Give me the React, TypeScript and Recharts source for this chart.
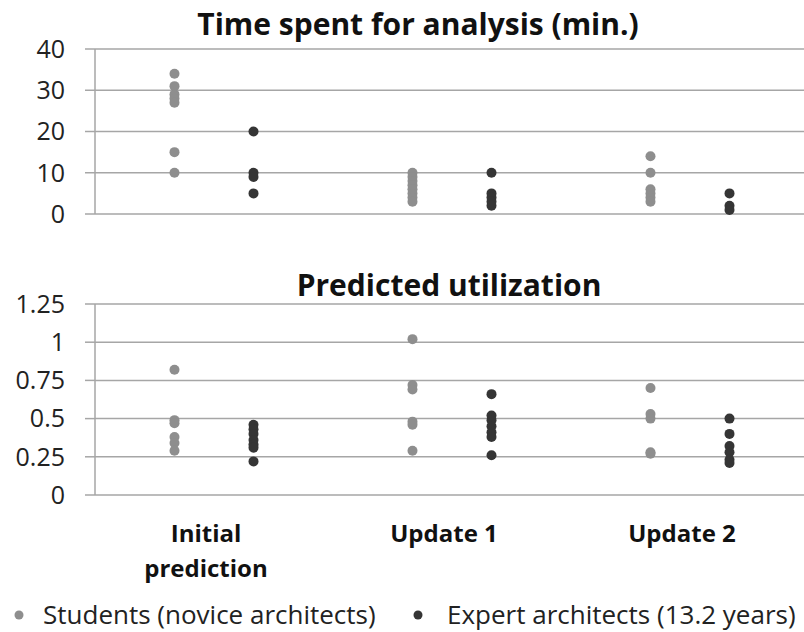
import React from 'react';
import { ScatterChart, Scatter, XAxis, YAxis, CartesianGrid } from 'recharts';

const FONT = "'Open Sans', Lato, sans-serif";
const GRID = '#a6a6a6';
const STUDENT = '#8e8e8e';
const EXPERT = '#353535';

// categories (one per update round), label lines for the x axis
const categories = ['Initial prediction', 'Update 1', 'Update 2'];
const categoryLines = [['Initial', 'prediction'], ['Update 1'], ['Update 2']];

// time spent for analysis (min.), per category
const timeStudents = [
  [34, 31, 29, 28, 27, 15, 10],
  [10, 9, 8, 7, 6, 5, 4, 3],
  [14, 10, 6, 5, 4, 3],
];
const timeExperts = [
  [20, 10, 9, 5],
  [10, 5, 4, 3, 2],
  [5, 2, 1],
];
const timeTicks = [0, 10, 20, 30, 40];

// predicted utilization, per category
const utilStudents = [
  [0.82, 0.49, 0.47, 0.38, 0.34, 0.29],
  [1.02, 0.72, 0.69, 0.48, 0.46, 0.29],
  [0.7, 0.53, 0.5, 0.28, 0.27],
];
const utilExperts = [
  [0.46, 0.43, 0.4, 0.36, 0.33, 0.31, 0.22],
  [0.66, 0.52, 0.49, 0.45, 0.41, 0.38, 0.26],
  [0.5, 0.4, 0.32, 0.28, 0.23, 0.21],
];
const utilTicks = [0, 0.25, 0.5, 0.75, 1, 1.25];

const legendLabels = ['Students (novice architects)', 'Expert architects (13.2 years)'];

// group offset within a category (in category units)
const OFFSET = 0.166;

const toPoints = (groups: number[][], shift: number) =>
  groups.flatMap((vals, i) => vals.map(v => ({ x: i + 0.5 + shift, y: v, cat: categories[i] })));

const timeStudentPts = toPoints(timeStudents, -OFFSET);
const timeExpertPts = toPoints(timeExperts, OFFSET);
const utilStudentPts = toPoints(utilStudents, -OFFSET);
const utilExpertPts = toPoints(utilExperts, OFFSET);

const dot = (color: string) => (props: any) => (
  <circle cx={props.cx} cy={props.cy} r={5} fill={color} />
);

const CategoryTick = (props: any) => {
  const { x, y, payload } = props;
  const lines = categoryLines[Math.floor(payload.value)] || [];
  return (
    <text x={x - 8} y={y} textAnchor="middle" fill="#111" fontSize={24} fontWeight="bold" fontFamily={FONT}>
      {lines.map((l, i) => (
        <tspan key={i} x={x - 8} dy={i === 0 ? 47 : 35}>{l}</tspan>
      ))}
    </text>
  );
};

const yAxisProps = {
  width: 95,
  tickSize: 10,
  tickMargin: 20,
  axisLine: { stroke: GRID, strokeWidth: 1.5 },
  tickLine: { stroke: GRID, strokeWidth: 1.5 },
  tick: { fill: '#222', fontSize: 25, fontFamily: FONT },
  interval: 0 as const,
};

export default function App() {
  return (
    <div style={{ position: 'absolute', left: 0, top: 0, width: 804, height: 632, overflow: 'hidden', background: '#fff', fontFamily: FONT }}>
      <div style={{ position: 'absolute', left: 0, top: 0 }}>
        <ScatterChart width={812} height={230} margin={{ top: 49, right: 3, bottom: 16, left: 0 }}>
          <CartesianGrid vertical={false} stroke={GRID} strokeWidth={1.5} />
          <XAxis type="number" dataKey="x" domain={[0, 3]} hide />
          <YAxis type="number" dataKey="y" domain={[0, 40]} ticks={timeTicks} {...yAxisProps} />
          <Scatter data={timeStudentPts} fill={STUDENT} shape={dot(STUDENT)} isAnimationActive={false} />
          <Scatter data={timeExpertPts} fill={EXPERT} shape={dot(EXPERT)} isAnimationActive={false} />
        </ScatterChart>
      </div>
      <div style={{ position: 'absolute', left: 0, top: 250 }}>
        <ScatterChart width={812} height={382} margin={{ top: 54, right: 3, bottom: 67, left: 0 }}>
          <CartesianGrid vertical={false} stroke={GRID} strokeWidth={1.5} />
          <XAxis
            type="number"
            dataKey="x"
            domain={[0, 3]}
            ticks={[0.5, 1.5, 2.5]}
            height={70}
            axisLine={false}
            tickLine={false}
            tickSize={0}
            tickMargin={0}
            interval={0}
            tick={<CategoryTick />}
          />
          <YAxis type="number" dataKey="y" domain={[0, 1.25]} ticks={utilTicks} {...yAxisProps} />
          <Scatter data={utilStudentPts} fill={STUDENT} shape={dot(STUDENT)} isAnimationActive={false} />
          <Scatter data={utilExpertPts} fill={EXPERT} shape={dot(EXPERT)} isAnimationActive={false} />
        </ScatterChart>
      </div>
      <svg width={804} height={632} style={{ position: 'absolute', left: 0, top: 0, pointerEvents: 'none' }}>
        <text x={418} y={35} textAnchor="middle" fontSize={30} fontWeight="bold" fill="#111" fontFamily={FONT}>
          Time spent for analysis (min.)
        </text>
        <text x={449} y={296} textAnchor="middle" fontSize={30} fontWeight="bold" fill="#111" fontFamily={FONT}>
          Predicted utilization
        </text>
        <circle cx={19} cy={615} r={4.5} fill={STUDENT} />
        <text x={43} y={624} fontSize={26} fill="#222" fontFamily={FONT}>{legendLabels[0]}</text>
        <circle cx={418} cy={615} r={4.5} fill={EXPERT} />
        <text x={447} y={624} fontSize={26} fill="#222" fontFamily={FONT}>{legendLabels[1]}</text>
      </svg>
    </div>
  );
}
